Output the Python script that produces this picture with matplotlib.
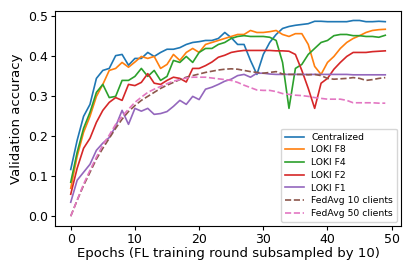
import numpy as np
import matplotlib
matplotlib.use('Agg')
import matplotlib.pyplot as plt

# Validation accuracy per epoch
epochs = np.arange(50)

centralized = [0.117, 0.19, 0.25, 0.28, 0.345, 0.365, 0.37, 0.402, 0.405, 0.378,
               0.395, 0.395, 0.41, 0.40, 0.41, 0.418, 0.418, 0.422, 0.43, 0.435,
               0.437, 0.44, 0.44, 0.445, 0.46, 0.447, 0.43, 0.43, 0.39, 0.355,
               0.405, 0.435, 0.455, 0.47, 0.475, 0.478, 0.48, 0.482, 0.488, 0.488,
               0.487, 0.487, 0.487, 0.487, 0.49, 0.49, 0.487, 0.487, 0.488, 0.487]

loki_f8 = [0.07, 0.15, 0.21, 0.25, 0.30, 0.33, 0.365, 0.37, 0.385, 0.373,
           0.386, 0.40, 0.395, 0.40, 0.37, 0.38, 0.405, 0.39, 0.41, 0.42,
           0.41, 0.43, 0.435, 0.44, 0.445, 0.45, 0.455, 0.455, 0.465, 0.46,
           0.46, 0.462, 0.465, 0.455, 0.45, 0.457, 0.457, 0.43, 0.375, 0.355,
           0.385, 0.40, 0.42, 0.435, 0.445, 0.452, 0.46, 0.465, 0.467, 0.468]

loki_f4 = [0.085, 0.16, 0.22, 0.26, 0.31, 0.33, 0.297, 0.30, 0.34, 0.34,
           0.35, 0.37, 0.35, 0.365, 0.34, 0.35, 0.39, 0.385, 0.40, 0.385,
           0.41, 0.42, 0.42, 0.43, 0.435, 0.445, 0.45, 0.452, 0.45, 0.45,
           0.45, 0.448, 0.44, 0.385, 0.27, 0.37, 0.38, 0.405, 0.42, 0.435,
           0.44, 0.452, 0.455, 0.455, 0.452, 0.452, 0.45, 0.45, 0.448, 0.453]

loki_f2 = [0.055, 0.12, 0.17, 0.195, 0.235, 0.265, 0.285, 0.297, 0.29, 0.33,
           0.327, 0.335, 0.357, 0.333, 0.33, 0.34, 0.348, 0.345, 0.336, 0.37,
           0.37, 0.377, 0.386, 0.398, 0.403, 0.41, 0.413, 0.415, 0.415, 0.415,
           0.415, 0.415, 0.414, 0.414, 0.413, 0.405, 0.365, 0.32, 0.27, 0.333,
           0.345, 0.368, 0.385, 0.40, 0.41, 0.41, 0.41, 0.412, 0.413, 0.414]

loki_f1 = [0.035, 0.09, 0.11, 0.13, 0.165, 0.183, 0.197, 0.225, 0.265, 0.23,
           0.27, 0.263, 0.27, 0.255, 0.257, 0.262, 0.275, 0.29, 0.28, 0.30,
           0.292, 0.318, 0.323, 0.33, 0.338, 0.343, 0.352, 0.355, 0.348, 0.358,
           0.358, 0.356, 0.355, 0.355, 0.355, 0.355, 0.355, 0.355, 0.355, 0.355,
           0.355, 0.355, 0.355, 0.355, 0.354, 0.354, 0.354, 0.354, 0.354, 0.354]

fedavg_10 = [0.0, 0.04, 0.077, 0.11, 0.143, 0.17, 0.195, 0.22, 0.243, 0.262,
             0.277, 0.29, 0.30, 0.31, 0.32, 0.328, 0.335, 0.342, 0.348, 0.352,
             0.356, 0.36, 0.363, 0.366, 0.368, 0.369, 0.368, 0.365, 0.362, 0.36,
             0.358, 0.36, 0.362, 0.356, 0.355, 0.355, 0.355, 0.354, 0.355, 0.352,
             0.345, 0.343, 0.344, 0.345, 0.347, 0.345, 0.34, 0.342, 0.345, 0.347]

fedavg_50 = [0.0, 0.04, 0.08, 0.115, 0.148, 0.178, 0.203, 0.23, 0.25, 0.268,
             0.285, 0.298, 0.31, 0.318, 0.325, 0.332, 0.338, 0.342, 0.346, 0.348,
             0.348, 0.348, 0.346, 0.344, 0.342, 0.34, 0.335, 0.328, 0.322, 0.316,
             0.315, 0.315, 0.312, 0.307, 0.305, 0.303, 0.302, 0.30, 0.297, 0.295,
             0.293, 0.293, 0.293, 0.29, 0.284, 0.284, 0.284, 0.284, 0.283, 0.283]

fig = plt.figure(figsize=(4.11, 2.74), dpi=100)
ax = fig.add_axes([55 / 411, 1 - 226 / 274, 346 / 411, 215.3 / 274])

lw = 1.2
ax.plot(epochs, centralized, color='tab:blue', lw=lw, label='Centralized')
ax.plot(epochs, loki_f8, color='tab:orange', lw=lw, label='LOKI F8')
ax.plot(epochs, loki_f4, color='tab:green', lw=lw, label='LOKI F4')
ax.plot(epochs, loki_f2, color='tab:red', lw=lw, label='LOKI F2')
ax.plot(epochs, loki_f1, color='tab:purple', lw=lw, label='LOKI F1')
ax.plot(epochs, fedavg_10, color='tab:brown', lw=lw, ls='--', label='FedAvg 10 clients')
ax.plot(epochs, fedavg_50, color='tab:pink', lw=lw, ls='--', label='FedAvg 50 clients')

ax.set_xlabel('Epochs (FL training round subsampled by 10)', fontsize=9.5, labelpad=1)
ax.set_ylabel('Validation accuracy', fontsize=9.5, labelpad=4)
ax.tick_params(labelsize=9, length=3, pad=2)
ax.set_yticks([0.0, 0.1, 0.2, 0.3, 0.4, 0.5])
ax.set_xticks([0, 10, 20, 30, 40, 50])
ax.legend(loc='lower right', fontsize=6.7, handlelength=2.0, borderpad=0.45,
          labelspacing=0.4, borderaxespad=0.4)

fig.savefig('out.png', dpi=100)
